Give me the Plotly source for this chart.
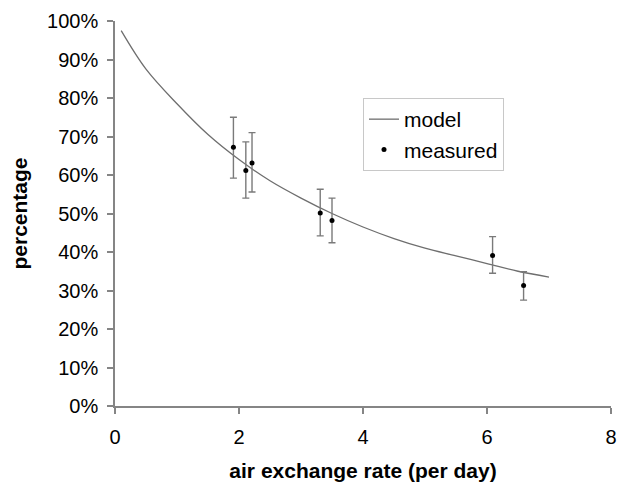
"""Model vs measured percentage against air exchange rate."""

import plotly.graph_objects as go

# ---------------------------------------------------------------------------
# Data
# ---------------------------------------------------------------------------

model_x = [0.1, 0.5, 1.0, 1.5, 2.0, 2.5, 3.0, 3.5, 4.0, 4.5, 5.0, 5.5, 6.0, 6.5, 7.0]
model_y = [97.5, 87.5, 78.5, 70.5, 64.0, 58.5, 54.0, 50.0, 46.5, 43.5, 41.0, 39.0, 37.0, 35.0, 33.5]

measured_x = [1.91, 2.11, 2.21, 3.31, 3.50, 6.09, 6.59]
measured_y = [67.2, 61.2, 63.1, 50.1, 48.2, 39.1, 31.3]
err_hi = [75.0, 68.6, 71.0, 56.3, 54.0, 44.0, 34.9]
err_lo = [59.2, 54.0, 55.6, 44.2, 42.4, 34.5, 27.5]

x_ticks = [0, 2, 4, 6, 8]
y_ticks = [0, 10, 20, 30, 40, 50, 60, 70, 80, 90, 100]
y_tick_labels = [f"{v}%" for v in y_ticks]

FONT = "Liberation Sans, Arial, sans-serif"
AXIS_GREY = "#858585"

fig = go.Figure()

fig.add_trace(
    go.Scatter(
        x=model_x,
        y=model_y,
        mode="lines",
        line=dict(color="#6e6e6e", width=1.3, shape="spline"),
        name="model",
    )
)

fig.add_trace(
    go.Scatter(
        x=measured_x,
        y=measured_y,
        mode="markers",
        marker=dict(color="black", size=5),
        error_y=dict(
            type="data",
            symmetric=False,
            array=[h - m for h, m in zip(err_hi, measured_y)],
            arrayminus=[m - l for m, l in zip(measured_y, err_lo)],
            color="#7a7a7a",
            thickness=1.4,
            width=3.5,
        ),
        name="measured",
    )
)

# the page body adds an 8px offset, so margins are shifted to compensate
fig.update_layout(
    width=630,
    height=490,
    margin=dict(l=107, r=27, t=13, b=92),
    paper_bgcolor="white",
    plot_bgcolor="white",
    font=dict(family=FONT, size=20, color="black"),
    legend=dict(
        x=0.5,
        y=0.80,
        xanchor="left",
        yanchor="top",
        bordercolor="#c8c8c8",
        borderwidth=1,
        font=dict(size=21),
        itemwidth=30,
        tracegroupgap=0,
    ),
)

fig.update_xaxes(
    range=[0, 8],
    tickvals=x_ticks,
    automargin=False,
    ticklabeloverflow="allow",
    showgrid=False,
    zeroline=False,
    showline=True,
    linecolor=AXIS_GREY,
    linewidth=1.5,
    ticks="outside",
    ticklen=6,
    tickcolor=AXIS_GREY,
    tickwidth=1.5,
    ticklabelstandoff=6,
    title=dict(text="<b>air exchange rate (per day)</b>", font=dict(size=21), standoff=17),
)

fig.update_yaxes(
    range=[0, 100],
    tickvals=y_ticks,
    ticktext=y_tick_labels,
    automargin=False,
    ticklabeloverflow="allow",
    showgrid=False,
    zeroline=False,
    showline=True,
    linecolor=AXIS_GREY,
    linewidth=1.5,
    ticks="outside",
    ticklen=6,
    tickcolor=AXIS_GREY,
    tickwidth=1.5,
    ticklabelstandoff=5,
    title=dict(text="<b>percentage</b>", font=dict(size=21), standoff=16),
)

fig.write_html("out.html")
